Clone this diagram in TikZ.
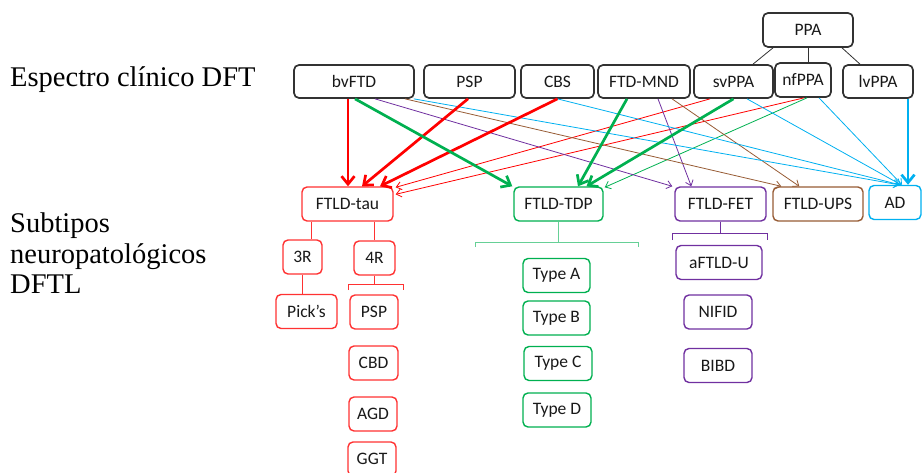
\documentclass[tikz,border=0pt]{standalone}
\usepackage{fontspec}
\setmainfont{Carlito}
\newfontfamily\labelfont{Liberation Serif}
\usetikzlibrary{arrows.meta}

\definecolor{tauRed}{RGB}{255,0,0}
\definecolor{tauBox}{RGB}{255,50,50}
\definecolor{tdpGreen}{RGB}{0,176,80}
\definecolor{fetPurple}{RGB}{112,48,160}
\definecolor{upsBrown}{RGB}{151,92,53}
\definecolor{adBlue}{RGB}{0,176,240}
\definecolor{boxGray}{RGB}{50,50,50}

\tikzset{
  box/.style={draw, fill=white, rounded corners=5pt, line width=1.4pt, minimum height=34pt,
    inner sep=0pt, font=\fontsize{17.5}{19}\selectfont, text=black!90},
  clinbox/.style={box, draw=boxGray, line width=1.7pt, minimum height=33pt},
  bigarrow/.style={line width=2.7pt, -{Straight Barb[length=8pt,width=13pt]}},
  smallarrow/.style={line width=0.8pt, -{Straight Barb[length=5pt,width=8pt]}},
  sidelabel/.style={anchor=base west, inner sep=0pt, font=\labelfont\fontsize{28.5}{30}\selectfont}
}

\begin{document}
\begin{tikzpicture}[x=1pt,y=-1pt]
	\useasboundingbox (0,0) rectangle (923,473);

	% left labels
	\node[sidelabel] (spectrum) at (10,87) {Espectro clínico DFT};
	\node[sidelabel] (sub1) at (10,233) {Subtipos};
	\node[sidelabel] (sub2) at (10,263) {neuropatológicos};
	\node[sidelabel] (sub3) at (10,293) {DFTL};

	% clinical spectrum
	\node[clinbox, minimum width=90pt, minimum height=34pt] (PPA) at (808,30) {PPA};
	\node[clinbox, minimum width=120pt] (bvFTD) at (354,81.5) {bvFTD};
	\node[clinbox, minimum width=91pt] (PSP) at (469.5,81.5) {PSP};
	\node[clinbox, minimum width=73pt] (CBS) at (557.5,81.5) {CBS};
	\node[clinbox, minimum width=92pt] (MND) at (644,81.5) {FTD-MND};
	\node[clinbox, minimum width=79pt] (svPPA) at (733.5,81.5) {svPPA};
	\node[clinbox, minimum width=56pt, minimum height=34pt] (nfPPA) at (803,80) {nfPPA};
	\node[clinbox, minimum width=70pt] (lvPPA) at (878,81.5) {lvPPA};

	\draw[boxGray, line width=0.8pt] ([xshift=-35pt]PPA.south) -- ([xshift=19.5pt]svPPA.north);
	\draw[boxGray, line width=0.8pt] (PPA.south) -- (PPA.south |- nfPPA.north);
	\draw[boxGray, line width=0.8pt] ([xshift=34pt]PPA.south) -- ([xshift=-18pt]lvPPA.north);

	% neuropathological subtypes
	\node[box, draw=tauBox, minimum width=91pt] (tau) at (347.5,204) {FTLD-tau};
	\node[box, draw=tdpGreen, minimum width=89pt] (TDP) at (558.5,204) {FTLD-TDP};
	\node[box, draw=fetPurple, minimum width=91pt] (FET) at (720.5,204) {FTLD-FET};
	\node[box, draw=upsBrown, minimum width=90pt] (UPS) at (818,204) {FTLD-UPS};
	\node[box, draw=adBlue, minimum width=52pt] (AD) at (895,202.5) {AD};

	% tau branch
	\node[box, draw=tauBox, minimum width=39pt] (r3) at (302.5,257) {3R};
	\node[box, draw=tauBox, minimum width=41pt] (r4) at (374.5,258) {4R};
	\node[box, draw=tauBox, minimum width=61pt] (picks) at (306.5,311.5) {Pick’s};
	\node[box, draw=tauBox, minimum width=48pt] (psp) at (374,312) {PSP};
	\node[box, draw=tauBox, minimum width=49pt] (cbd) at (373.5,363) {CBD};
	\node[box, draw=tauBox, minimum width=48pt] (agd) at (373,414) {AGD};
	\node[box, draw=tauBox, minimum width=48pt] (ggt) at (372,459) {GGT};

	\draw[tauBox, line width=1pt] ([xshift=-36pt]tau.south) -- ([xshift=9pt]r3.north);
	\draw[tauBox, line width=1pt] ([xshift=27pt]tau.south) -- (r4.north);
	\draw[tauBox, line width=1pt] (r3.south) -- (r3.south |- picks.north);
	\draw[tauBox, line width=1pt] (r4.south) -- ++(0,9) coordinate (r4fork);
	\draw[tauBox, line width=1pt] (348,290) -- (348,284) -- (403,284) -- (403,290);

	% TDP branch
	\node[box, draw=tdpGreen, minimum width=67pt] (typeA) at (556.5,275.5) {Type A};
	\node[box, draw=tdpGreen, minimum width=67pt] (typeB) at (556.5,318) {Type B};
	\node[box, draw=tdpGreen, minimum width=68pt] (typeC) at (558,363.5) {Type C};
	\node[box, draw=tdpGreen, minimum width=68pt] (typeD) at (557,410) {Type D};

	\draw[tdpGreen!60, line width=1pt] (TDP.south) -- ++(0,21) coordinate (tdpfork);
	\draw[tdpGreen!60, line width=1pt] (475,247) -- (475,242) -- (638,242) -- (638,247);

	% FET branch
	\node[box, draw=fetPurple, minimum width=86pt] (aftld) at (719,262.5) {aFTLD-U};
	\node[box, draw=fetPurple, minimum width=68pt] (nifid) at (718,312) {NIFID};
	\node[box, draw=fetPurple, minimum width=68pt] (bibd) at (718,365.5) {BIBD};

	\draw[fetPurple, line width=1pt] (FET.south) -- ++(0,12) coordinate (fetfork);
	\draw[fetPurple, line width=1pt] (672,240) -- (672,233) -- (767,233) -- (767,240);

	% thin connectors
	\draw[smallarrow, tauRed] ([xshift=-23.5pt]svPPA.south) -- ([yshift=-1pt, xshift=2pt]tau.north east);
	\draw[smallarrow, tauRed] ([xshift=1pt]nfPPA.south) -- ([yshift=-8pt, xshift=2pt]tau.north east);
	\draw[smallarrow, tdpGreen] ([xshift=4pt]nfPPA.south) -- ([xshift=1pt, yshift=-1pt]TDP.north east);
	\draw[smallarrow, fetPurple] ([xshift=21pt]bvFTD.south) -- ([xshift=-2pt]FET.north west);
	\draw[smallarrow, fetPurple] ([xshift=14pt]MND.south) -- ([xshift=17pt]FET.north west);
	\draw[smallarrow, upsBrown] ([xshift=51pt]bvFTD.south) -- ([xshift=9pt]UPS.north west);
	\draw[smallarrow, upsBrown] ([xshift=28pt]MND.south) -- ([xshift=27pt]UPS.north west);
	\draw[smallarrow, adBlue] ([xshift=-1pt]bvFTD.south east) -- ([xshift=4pt]AD.north);
	\draw[smallarrow, adBlue] (CBS.south) -- ([xshift=5pt]AD.north);
	\draw[smallarrow, adBlue] ([xshift=13.5pt]svPPA.south) -- ([xshift=6pt]AD.north);
	\draw[smallarrow, adBlue] ([xshift=16pt]nfPPA.south) -- ([xshift=7pt]AD.north);

	% thick connectors
	\draw[bigarrow, tauRed] ([xshift=-6pt]bvFTD.south) -- ([xshift=0.5pt]tau.north);
	\draw[bigarrow, tauRed] ([xshift=-1.5pt]PSP.south) -- ([xshift=14.5pt]tau.north);
	\draw[bigarrow, tauRed] (CBS.south) -- ([xshift=32.5pt]tau.north);
	\draw[bigarrow, tdpGreen] ([xshift=1pt]bvFTD.south) -- ([xshift=-1pt]TDP.north west);
	\draw[bigarrow, tdpGreen] ([xshift=-17pt]MND.south) -- ([xshift=19.5pt]TDP.north);
	\draw[bigarrow, tdpGreen] (svPPA.south) -- ([xshift=28pt]TDP.north);
	\draw[bigarrow, adBlue] ([xshift=30pt]lvPPA.south) -- ([xshift=13pt]AD.north);

\end{tikzpicture}
\end{document}
